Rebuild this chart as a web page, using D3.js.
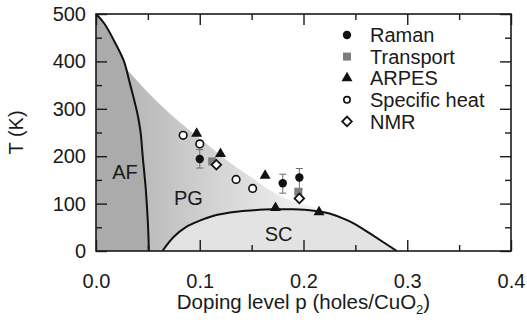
<!DOCTYPE html>
<html>
<head>
<meta charset="utf-8">
<script src="https://cdn.jsdelivr.net/npm/d3@7"></script>
<style>
  body { margin: 0; background: #fff; }
  svg text { font-family: "Liberation Sans", Arial, Helvetica, sans-serif; fill: #1a1a1a; }
</style>
</head>
<body>
<div id="chart"></div>
<script>
// phase boundaries (p in holes/CuO2, T in K)
const afLine = [[0, 500], [0.008, 480], [0.019, 437], [0.027, 400], [0.032, 359], [0.040, 289],
  [0.043, 250], [0.045, 200], [0.048, 130], [0.050, 60], [0.051, 0]]
const pgEdge = [[0.029, 385], [0.05, 335], [0.07, 292], [0.09, 255], [0.11, 220], [0.13, 185],
  [0.15, 155], [0.17, 125], [0.19, 105], [0.21, 92], [0.225, 82]]
const scDome = [[0.064, 0], [0.075, 30], [0.087, 51], [0.10, 64], [0.116, 76], [0.135, 83],
  [0.152, 86], [0.17, 88], [0.19, 88], [0.21, 85], [0.225, 79], [0.242, 65], [0.254, 51],
  [0.264, 37], [0.29, 0]]

// measurements
const raman = [{p: 0.100, T: 194, lo: 175, hi: 214}, {p: 0.180, T: 143, lo: 122, hi: 162}, {p: 0.196, T: 155, lo: 130, hi: 174}]
const transport = [{p: 0.112, T: 189}, {p: 0.195, T: 125}]
const arpes = [{p: 0.097, T: 249}, {p: 0.120, T: 206}, {p: 0.163, T: 160}, {p: 0.173, T: 92}, {p: 0.215, T: 83}]
const specificHeat = [{p: 0.084, T: 244}, {p: 0.100, T: 226}, {p: 0.135, T: 151}, {p: 0.151, T: 132}]
const nmr = [{p: 0.116, T: 182}, {p: 0.196, T: 111}]

const legendNames = ["Raman", "Transport", "ARPES", "Specific heat", "NMR"]
const xTicks = [0, 0.1, 0.2, 0.3, 0.4]
const yTicks = [0, 100, 200, 300, 400, 500]
const regionLabels = [{text: "AF", p: 0.028, T: 167}, {text: "PG", p: 0.089, T: 112}, {text: "SC", p: 0.176, T: 37}]

const margin = ({top: 14, right: 16, bottom: 71, left: 96})
const width = 527 - margin.left - margin.right,
  height = 322 - margin.top - margin.bottom;

const svg = d3.select("#chart").append("svg")
    .attr("width", width + margin.left + margin.right)
    .attr("height", height + margin.top + margin.bottom)
  .append("g")
    .attr("transform", "translate(" + margin.left + "," + margin.top + ")");

const x = d3.scaleLinear().domain([0, 0.4]).range([0, width])
const y = d3.scaleLinear().domain([0, 500]).range([height, 0])

const defs = svg.append("defs")
defs.append("clipPath").attr("id", "plot")
  .append("rect").attr("width", width).attr("height", height)

const grad = defs.append("linearGradient").attr("id", "pgfill")
  .attr("gradientUnits", "userSpaceOnUse")
  .attr("x1", x(0.03)).attr("x2", x(0.24)).attr("y1", 0).attr("y2", 0)
grad.append("stop").attr("offset", 0).attr("stop-color", "#b6b6b6")
grad.append("stop").attr("offset", 1).attr("stop-color", "#ffffff")

const line = d3.line()
  .x(d => x(d[0]))
  .y(d => y(d[1]))
  .curve(d3.curveCatmullRom.alpha(0.5))

const regions = svg.append("g").attr("clip-path", "url(#plot)")

// pseudogap region, closed down to the axis and left under the AF area
const pgTail = [[0.225, 0], [0, 0], [0, 385]]
regions.append("path")
  .attr("d", line(pgEdge) + pgTail.map(d => "L" + x(d[0]) + "," + y(d[1])).join("") + "Z")
  .attr("fill", "url(#pgfill)")

regions.append("path")
  .attr("d", line(afLine) + "L" + x(0) + "," + y(0) + "Z")
  .attr("fill", "#ababab")

regions.append("path")
  .attr("d", line(scDome) + "Z")
  .attr("fill", "#e3e3e3")

regions.append("path").attr("d", line(afLine))
  .attr("fill", "none").attr("stroke", "#111").attr("stroke-width", 2)
regions.append("path").attr("d", line(scDome))
  .attr("fill", "none").attr("stroke", "#111").attr("stroke-width", 2)

svg.selectAll(".region-label")
  .data(regionLabels)
  .enter().append("text")
  .attr("class", "region-label")
  .attr("x", d => x(d.p))
  .attr("y", d => y(d.T))
  .attr("dy", "0.36em")
  .attr("text-anchor", "middle")
  .attr("font-size", 20)
  .text(d => d.text)

// symbols
const tri = d3.symbol().type(d3.symbolTriangle).size(52)
const dia = d3.symbol().type(d3.symbolSquare).size(46)

const marks = svg.append("g")

marks.selectAll(".err")
  .data(raman)
  .enter().append("path")
  .attr("class", "err")
  .attr("d", d => {
    const cx = x(d.p), c = 3.5
    return `M${cx},${y(d.lo)}V${y(d.hi)}M${cx - c},${y(d.lo)}H${cx + c}M${cx - c},${y(d.hi)}H${cx + c}`
  })
  .attr("fill", "none").attr("stroke", "#6e6e6e").attr("stroke-width", 1)

marks.selectAll(".sh")
  .data(specificHeat)
  .enter().append("circle")
  .attr("class", "sh")
  .attr("cx", d => x(d.p)).attr("cy", d => y(d.T)).attr("r", 3.8)
  .attr("fill", "#fff").attr("stroke", "#111").attr("stroke-width", 1.6)

marks.selectAll(".tr")
  .data(transport)
  .enter().append("rect")
  .attr("class", "tr")
  .attr("x", d => x(d.p) - 4).attr("y", d => y(d.T) - 4)
  .attr("width", 8).attr("height", 8)
  .attr("fill", "#7d7d7d")

marks.selectAll(".ram")
  .data(raman)
  .enter().append("circle")
  .attr("class", "ram")
  .attr("cx", d => x(d.p)).attr("cy", d => y(d.T)).attr("r", 4.2)
  .attr("fill", "#111")

marks.selectAll(".nmr")
  .data(nmr)
  .enter().append("path")
  .attr("class", "nmr")
  .attr("transform", d => `translate(${x(d.p)},${y(d.T)}) rotate(45)`)
  .attr("d", dia)
  .attr("fill", "#fff").attr("stroke", "#111").attr("stroke-width", 1.8)

marks.selectAll(".arpes")
  .data(arpes)
  .enter().append("path")
  .attr("class", "arpes")
  .attr("transform", d => `translate(${x(d.p)},${y(d.T) + 0.5})`)
  .attr("d", tri)
  .attr("fill", "#111")

// axes, ticks pointing inward on all four sides
function frameAxis(axisFn, scale, major, minor, transform, labels) {
  svg.append("g").attr("transform", transform)
    .call(axisFn(scale).tickValues(minor).tickSize(-6).tickFormat(""))
    .call(g => g.select(".domain").remove())
  const g = svg.append("g").attr("transform", transform)
    .call(axisFn(scale).tickValues(major).tickSizeInner(-11).tickSizeOuter(0).tickPadding(labels ? 10 : 0)
      .tickFormat(labels ? labels : ""))
  g.select(".domain").remove()
  g.selectAll("text").attr("font-size", 20).attr("font-family", null).attr("fill", "#1a1a1a")
  return g
}
const xMinor = [0.05, 0.15, 0.25, 0.35]
const yMinor = [50, 150, 250, 350, 450]

const xg = frameAxis(d3.axisBottom, x, xTicks, xMinor, `translate(0,${height})`, d3.format(".1f"))
xg.selectAll("text").attr("dy", "1.35em")
frameAxis(d3.axisTop, x, xTicks, xMinor, "translate(0,0)", null)
frameAxis(d3.axisLeft, y, yTicks, yMinor, "translate(0,0)", d3.format("d"))
frameAxis(d3.axisRight, y, yTicks, yMinor, `translate(${width},0)`, null)
svg.selectAll(".tick line").attr("stroke", "#1a1a1a").attr("stroke-width", 1.4)

svg.append("rect")
  .attr("width", width).attr("height", height)
  .attr("fill", "none").attr("stroke", "#1a1a1a").attr("stroke-width", 1.6)

// axis titles
const xt = svg.append("text")
  .attr("x", width / 2).attr("y", height + 58)
  .attr("text-anchor", "middle").attr("font-size", 20.5)
xt.append("tspan").text("Doping level p (holes/CuO")
xt.append("tspan").text("2").attr("font-size", 13).attr("dy", 5)
xt.append("tspan").text(")").attr("dy", -5)

svg.append("text")
  .attr("transform", `translate(${-73},${height / 2}) rotate(-90)`)
  .attr("text-anchor", "middle").attr("font-size", 20)
  .text("T (K)")

// legend
const legend = svg.append("g").attr("transform", "translate(251,21)")
const rowH = 21.6
const legendRows = legend.selectAll(".row")
  .data(legendNames)
  .enter().append("g")
  .attr("class", "row")
  .attr("transform", (d, i) => `translate(0,${i * rowH})`)

legendRows.append("text")
  .attr("x", 23).attr("dy", "0.36em")
  .attr("font-size", 20)
  .text(d => d)

legendRows.each(function(d) {
  const g = d3.select(this)
  if (d == "Raman") g.append("circle").attr("r", 4.2).attr("fill", "#111")
  else if (d == "Transport") g.append("rect").attr("x", -4).attr("y", -4).attr("width", 8).attr("height", 8).attr("fill", "#7d7d7d")
  else if (d == "ARPES") g.append("path").attr("d", tri).attr("fill", "#111")
  else if (d == "Specific heat") g.append("circle").attr("r", 3.2).attr("fill", "#fff").attr("stroke", "#111").attr("stroke-width", 1.6)
  else g.append("path").attr("d", dia).attr("transform", "rotate(45)").attr("fill", "#fff").attr("stroke", "#111").attr("stroke-width", 1.8)
})
</script>
</body>
</html>
